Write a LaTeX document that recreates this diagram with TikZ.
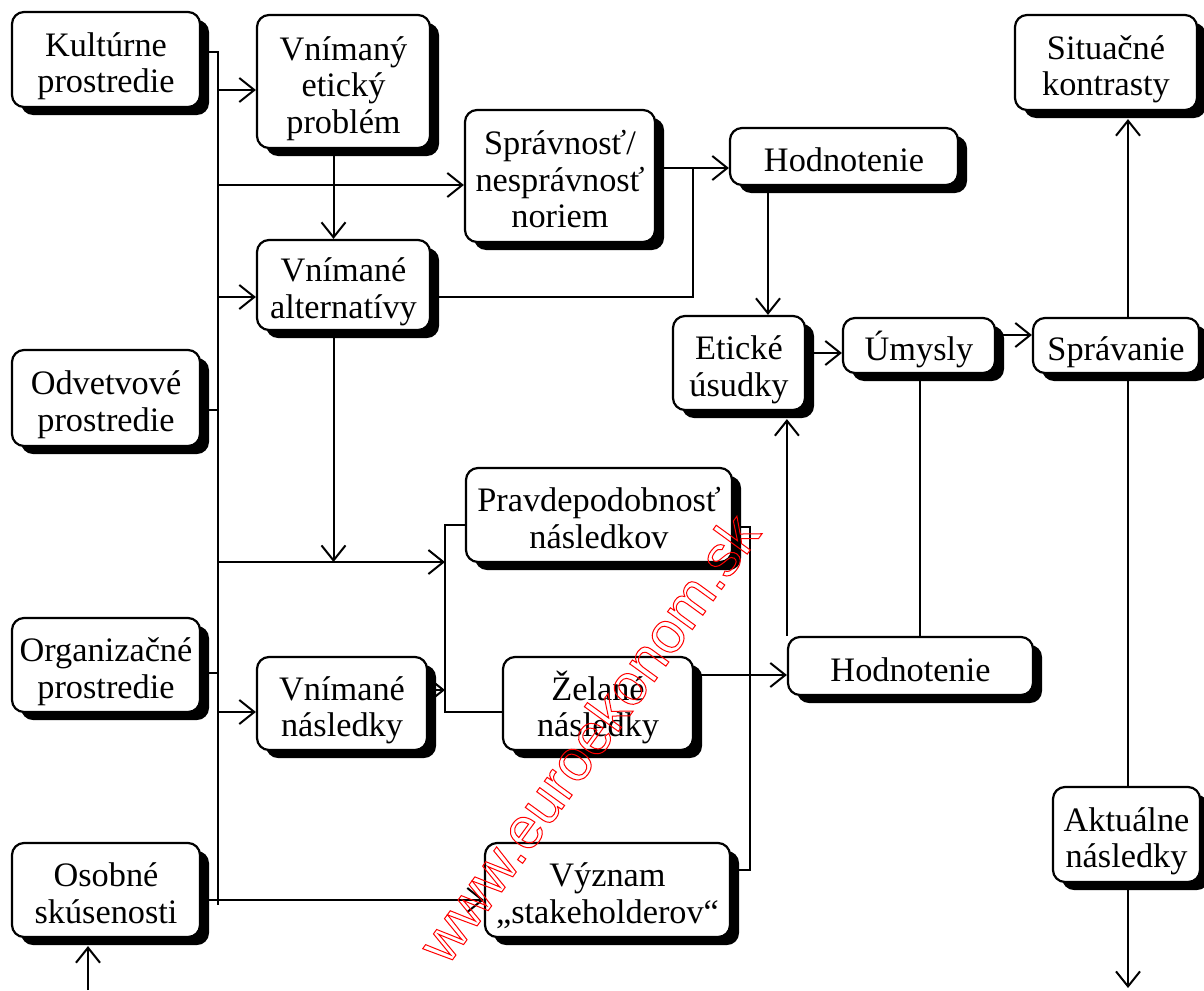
\documentclass[tikz,border=0pt]{standalone}
\usepackage{fontspec}
\setmainfont{Liberation Serif}
\newfontfamily\wmfont{Liberation Sans}
\usetikzlibrary{shadows,arrows.meta,calc}
\newcommand\tb[1]{\rule{0pt}{39pt}#1\rule[-9pt]{0pt}{9pt}}
\tikzset{
  box/.style={draw, line width=2.2pt, rounded corners=12pt, fill=white, align=center,
    inner sep=0pt, font=\fontsize{34.3}{36.5}\selectfont,
    drop shadow={shadow xshift=9pt, shadow yshift=-8pt, fill=black, opacity=1}},
  conn/.style={line width=2pt},
  arr/.style={line width=2pt, -{Straight Barb[length=15pt,width=24pt]}},
}
\begin{document}
\begin{tikzpicture}[x=1pt,y=-1pt]
\useasboundingbox (0,0) rectangle (1204,990);
% nodes
\node[box, minimum width=188, minimum height=95] (kult) at (106,59.5) {\tb{Kultúrne\\prostredie}};
\node[box, minimum width=188, minimum height=96] (odv) at (106,398) {\tb{Odvetvové\\prostredie}};
\node[box, minimum width=188, minimum height=94] (org) at (106,665) {\tb{Organizačné\\prostredie}};
\node[box, minimum width=188, minimum height=94] (osob) at (106,890) {\tb{Osobné\\skúsenosti}};
\node[box, minimum width=173, minimum height=133] (vep) at (343.5,81.5) {\tb{Vnímaný\\etický\\problém}};
\node[box, minimum width=173, minimum height=90] (valt) at (343.5,285) {\tb{Vnímané\\alternatívy}};
\node[box, minimum width=190, minimum height=132] (spr) at (560,176) {\tb{Správnosť/\\nesprávnosť\\noriem}};
\node[box, minimum width=228, minimum height=57] (hod1) at (844,156.5) {\tb{Hodnotenie}};
\node[box, minimum width=182, minimum height=95] (sit) at (1106,62.5) {\tb{Situačné\\kontrasty}};
\node[box, minimum width=132, minimum height=94] (etu) at (739,363) {\tb{Etické\\úsudky}};
\node[box, minimum width=152, minimum height=55] (umy) at (919,345.5) {\tb{Úmysly}};
\node[box, minimum width=166, minimum height=55] (sprav) at (1116,345.5) {\tb{Správanie}};
\node[box, minimum width=266, minimum height=94] (pravd) at (599,515) {\tb{Pravdepodobnosť\\následkov}};
\node[box, minimum width=170, minimum height=93] (vnn) at (342,703.5) {\tb{Vnímané\\následky}};
\node[box, minimum width=190, minimum height=93] (zel) at (598,703.5) {\tb{Želané\\následky}};
\node[box, minimum width=245, minimum height=94] (vyz) at (607.5,890) {\tb{Význam\\„stakeholderov“}};
\node[box, minimum width=245, minimum height=58] (hod2) at (910.5,666) {\tb{Hodnotenie}};
\node[box, minimum width=147, minimum height=95] (akt) at (1126.5,834.5) {\tb{Aktuálne\\následky}};
% coordinates
\coordinate (bT) at (218,52);
\coordinate (bB) at (218,905);
\coordinate (j1) at (218,90);
\coordinate (j2) at (218,185);
\coordinate (j3) at (218,297);
\coordinate (j4) at (218,410);
\coordinate (j5) at (218,562);
\coordinate (j6) at (218,673);
\coordinate (j7) at (218,712);
\coordinate (j8) at (218,900);
\coordinate (pvT) at (445,525);
\coordinate (pvB) at (445,712);
\coordinate (va) at (445,690);
\coordinate (m1) at (693,168);
\coordinate (m2) at (693,297);
\coordinate (z1) at (700,675);
\coordinate (r1) at (750,527);
\coordinate (r2) at (750,870);
\coordinate (vx) at (1128,0);
\coordinate (endA) at (1128,988);
\coordinate (startO) at (88,990);
% connectors
\draw[conn] (kult.east |- bT) -- (bT) -- (bB);
\draw[conn] (odv.east |- j4) -- (j4);
\draw[conn] (org.east |- j6) -- (j6);
\draw[conn] (osob.east |- j8) -- (j8);
\draw[arr] (j1) -- (j1 -| vep.west);
\draw[arr] (j2) -- (j2 -| spr.west);
\draw[arr] (j3) -- (j3 -| valt.west);
\draw[arr] (j5) -- (j5 -| pvT);
\draw[arr] (j7) -- (j7 -| vnn.west);
\draw[arr] (j8) -- (j8 -| vyz.west);
\draw[arr] ([xshift=-10pt]vep.south) -- ([xshift=-10pt]valt.north);
\draw[arr] ([xshift=-10pt]valt.south) -- ([xshift=-10pt]valt.south |- j5);
\draw[conn] (valt.east |- m2) -- (m2) -- (m1);
\draw[arr] (spr.east |- m1) -- (hod1.west |- m1);
\draw[arr] ([xshift=-76pt]hod1.south) -- ([xshift=-76pt]hod1.south |- etu.north);
\draw[conn] (pravd.west |- pvT) -- (pvT) -- (pvB) -- (zel.west |- pvB);
\draw[arr] (vnn.east |- va) -- (va);
\draw[conn] (pravd.east |- r1) -- (r1) -- (r2) -- (vyz.east |- r2);
\draw[arr] (zel.east |- z1) -- (hod2.west |- z1);
\draw[arr] (hod2.north west) -- ($(hod2.north west |- etu.south)+(0,8)$);
\draw[conn] ([xshift=9.5pt]hod2.north) -- ([xshift=9.5pt]hod2.north |- umy.south);
\draw[arr] ([yshift=10pt]etu.east) -- ([yshift=10pt]etu.east -| umy.west);
\draw[arr] ([yshift=10.5pt]umy.east) -- ([yshift=10.5pt]umy.east -| sprav.west);
\draw[arr] (vx |- sprav.north) -- ($(vx |- sit.south)+(0,8)$);
\draw[conn] (vx |- sprav.south) -- (vx |- akt.north);
\draw[arr] (vx |- akt.south) -- (endA);
\draw[arr] (startO) -- ($(startO |- osob.south)+(0,8)$);
% watermark
\node[rotate=54, text=red, inner sep=0pt, font=\wmfont\fontsize{58}{58}\selectfont] (wm) at (588,738) {\special{pdf:code 1 Tr 1 w}www.euroekonom.sk\special{pdf:code 0 Tr}};
\end{tikzpicture}
\end{document}
